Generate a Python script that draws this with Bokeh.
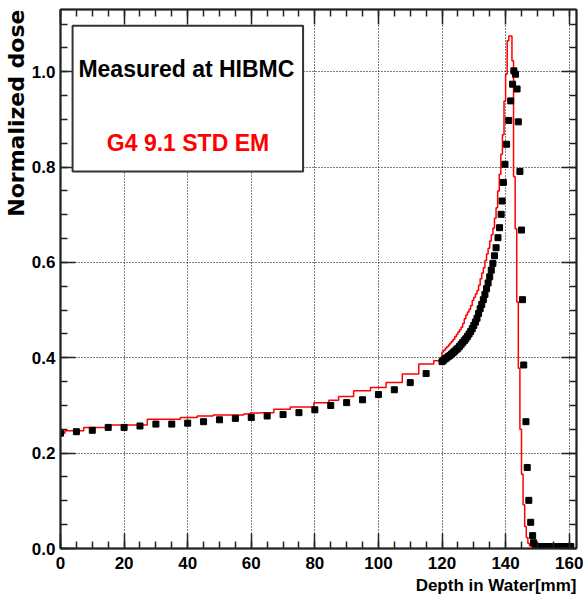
from bokeh.plotting import figure
from bokeh.models import (Range1d, LinearAxis, SingleIntervalTicker, PrintfTickFormatter,
                          BoxAnnotation, Label, Grid, Title, CustomJSTickFormatter)
from bokeh.embed import file_html
from bokeh.resources import INLINE

# ---------------- data ----------------
# Measured points (black squares)
meas_x_lo = [0, 5, 10, 15, 20, 25, 30, 35, 40, 45, 50, 55, 60, 65, 70, 75, 80, 85, 90, 95,
             100, 105, 110, 115]
meas_y_lo = [0.242, 0.245, 0.248, 0.254, 0.254, 0.257, 0.261, 0.261, 0.263, 0.266, 0.270,
             0.273, 0.275, 0.278, 0.281, 0.285, 0.291, 0.300, 0.306, 0.312, 0.323, 0.333,
             0.348, 0.367]
meas_x_mid = [120.0, 120.5, 121.0, 121.5, 122.0, 122.5, 123.0, 123.5, 124.0, 124.5, 125.0,
              125.5, 126.0, 126.5, 127.0, 127.5, 128.0, 128.5, 129.0, 129.5, 130.0, 130.5,
              131.0, 131.5, 132.0, 132.5, 133.0, 133.5, 134.0, 134.5, 135.0, 135.5, 136.0,
              136.5]
meas_y_mid = [0.392, 0.395, 0.398, 0.400, 0.403, 0.405, 0.408, 0.411, 0.414, 0.417, 0.420,
              0.424, 0.428, 0.432, 0.436, 0.440, 0.445, 0.450, 0.455, 0.461, 0.468, 0.475,
              0.483, 0.493, 0.503, 0.512, 0.522, 0.533, 0.545, 0.557, 0.570, 0.584, 0.598,
              0.614]
meas_x_peak = [137.0, 137.6, 138.1, 138.6, 138.9, 139.3, 139.8, 140.3, 141.0, 141.6, 142.2,
               142.6, 143.1, 143.6, 144.0, 144.5, 145.0, 145.3, 145.7, 146.4, 146.8, 147.3,
               147.9, 148.5, 148.8]
meas_y_peak = [0.631, 0.652, 0.673, 0.701, 0.729, 0.768, 0.806, 0.848, 0.898, 0.939, 0.974,
               1.002, 0.995, 0.964, 0.895, 0.791, 0.668, 0.522, 0.385, 0.266, 0.170, 0.101,
               0.055, 0.027, 0.012]
meas_x_tail = [149.5, 150.0, 150.5, 151.0, 151.5, 152.0, 152.5, 153.0, 153.5, 154.0, 154.5,
               155.0, 155.5, 156.0, 156.5, 157.0, 157.5, 158.0, 158.5, 159.0, 159.5, 160.0,
               160.5]
meas_y_tail = [0.004, 0.004, 0.004, 0.004, 0.004, 0.004, 0.004, 0.004, 0.004, 0.004, 0.004,
               0.004, 0.004, 0.004, 0.004, 0.004, 0.004, 0.004, 0.004, 0.004, 0.004, 0.004,
               0.004]

# Geant4 simulation histogram (red): left bin edges and bin contents
sim_edges_lo = [0.0, 1.4, 7.3, 15.7, 27.3, 37.7, 43.0, 48.0, 57.6, 59.7, 62.9, 67.1, 72.3,
                79.7, 84.4, 87.5, 92.2, 97.5, 102.4, 107.5, 112.7, 117.4]
sim_vals_lo = [0.242, 0.247, 0.254, 0.259, 0.271, 0.275, 0.278, 0.280, 0.282, 0.284, 0.285,
               0.292, 0.297, 0.306, 0.311, 0.319, 0.331, 0.338, 0.348, 0.366, 0.387, 0.394]
sim_edges_hi = [120.0, 120.5, 121.0, 121.5, 122.0, 122.5, 123.0, 123.5, 124.0, 124.5, 125.0,
                125.5, 126.0, 126.5, 127.0, 127.5, 128.0, 128.5, 129.0, 129.5, 130.0, 130.5,
                131.0, 131.5, 132.0, 132.5, 133.0, 133.5, 134.0, 134.5, 135.0, 135.5, 136.0,
                136.5, 137.0, 137.5, 138.0, 138.5, 139.0, 139.5, 140.0, 140.5, 141.0, 141.5,
                142.0, 142.5, 143.0, 143.5, 144.0, 144.5, 145.0, 145.5, 146.0, 146.5, 147.0,
                147.5, 148.0, 148.5]
sim_vals_hi = [0.412, 0.416, 0.420, 0.423, 0.427, 0.431, 0.435, 0.439, 0.444, 0.449, 0.454,
               0.459, 0.464, 0.472, 0.482, 0.490, 0.496, 0.502, 0.510, 0.520, 0.527, 0.534,
               0.541, 0.552, 0.566, 0.578, 0.589, 0.604, 0.618, 0.630, 0.645, 0.658, 0.672,
               0.693, 0.715, 0.750, 0.785, 0.827, 0.868, 0.939, 0.995, 1.065, 1.075, 1.075,
               1.023, 0.780, 0.671, 0.517, 0.378, 0.250, 0.156, 0.092, 0.046, 0.023, 0.011,
               0.006, 0.004, 0.001]
sim_end_edge = 149.0

x_title = "Depth in Water[mm]"
y_title = "Normalized dose"
legend_lines = ["Measured at HIBMC", "G4 9.1 STD EM"]

# ---------------- figure ----------------
X_MAX = 162.3
Y_MAX = 1.1307
FONT = "Liberation Sans"
INK = "#222222"

p = figure(width=584, height=603, x_range=Range1d(0, X_MAX), y_range=Range1d(0, Y_MAX),
           output_backend="svg", toolbar_location=None, x_axis_type=None, y_axis_type=None,
           min_border_left=60, min_border_right=8, min_border_top=9, min_border_bottom=55)
p.background_fill_color = "white"
p.border_fill_color = "white"
p.outline_line_color = INK
p.outline_line_width = 1.5

xt = SingleIntervalTicker(interval=20, num_minor_ticks=4)
yt = SingleIntervalTicker(interval=0.2, num_minor_ticks=4)


def style_axis(ax, labels):
    ax.major_tick_in = 15
    ax.major_tick_out = 0
    ax.minor_tick_in = 7
    ax.minor_tick_out = 0
    ax.axis_line_color = INK
    ax.axis_line_width = 2
    ax.major_tick_line_color = INK
    ax.major_tick_line_width = 1.5
    ax.minor_tick_line_color = INK
    ax.minor_tick_line_width = 1.5
    ax.axis_label_standoff = 0
    if labels:
        ax.major_label_text_font = FONT
        ax.major_label_text_font_style = "bold"
        ax.major_label_text_font_size = "17px"
        ax.major_label_text_color = "black"
    else:
        ax.formatter = CustomJSTickFormatter(code="return '';")
        ax.major_label_text_font_size = "1px"
        ax.major_label_standoff = 0


bottom = LinearAxis(ticker=xt, formatter=PrintfTickFormatter(format="%d"))
style_axis(bottom, True)
bottom.major_label_standoff = 8
p.add_layout(bottom, "below")

left = LinearAxis(ticker=yt, formatter=PrintfTickFormatter(format="%.1f"))
style_axis(left, True)
left.major_label_standoff = 5
p.add_layout(left, "left")

top = LinearAxis(ticker=xt)
style_axis(top, False)
p.add_layout(top, "above")

right = LinearAxis(ticker=yt)
style_axis(right, False)
p.add_layout(right, "right")

for dim, tk in ((0, xt), (1, yt)):
    p.add_layout(Grid(dimension=dim, ticker=tk, grid_line_color="black",
                      grid_line_dash="1 2", grid_line_width=1))

# axis titles (ROOT style: aligned to the axis end)
p.add_layout(Title(text=x_title, align="right", text_font=FONT, text_font_style="bold",
                   text_font_size="17px", text_color="black", standoff=5, offset=0),
             "below")
p.add_layout(Title(text=y_title, align="right", text_font="DejaVu Sans",
                   text_font_style="bold", text_font_size="22px", text_color="black",
                   standoff=0, offset=0),
             "left")

# simulation histogram
sx = sim_edges_lo + sim_edges_hi + [sim_end_edge]
sy = sim_vals_lo + sim_vals_hi + [0.0]
p.step(x=sx, y=sy, mode="after", line_color="red", line_width=1.5)

# measured points
mx = meas_x_lo + meas_x_mid + meas_x_peak + meas_x_tail
my = meas_y_lo + meas_y_mid + meas_y_peak + meas_y_tail
p.scatter(x=mx, y=my, marker="square", size=6, color="black")

# legend box
p.add_layout(BoxAnnotation(left=3.8, right=76.3, bottom=0.791, top=1.0965,
                           fill_color="white", fill_alpha=1.0,
                           line_color="#333333", line_alpha=1.0, line_width=2))
p.add_layout(Label(x=39.6, y=1.0057, text=legend_lines[0], text_align="center",
                   text_baseline="middle", text_font=FONT, text_font_style="bold",
                   text_font_size="23px", text_color="black"))
p.add_layout(Label(x=40.1, y=0.850, text=legend_lines[1], text_align="center",
                   text_baseline="middle", text_font=FONT, text_font_style="bold",
                   text_font_size="23px", text_color="red"))

open("out.html", "w").write(file_html(p, INLINE))
